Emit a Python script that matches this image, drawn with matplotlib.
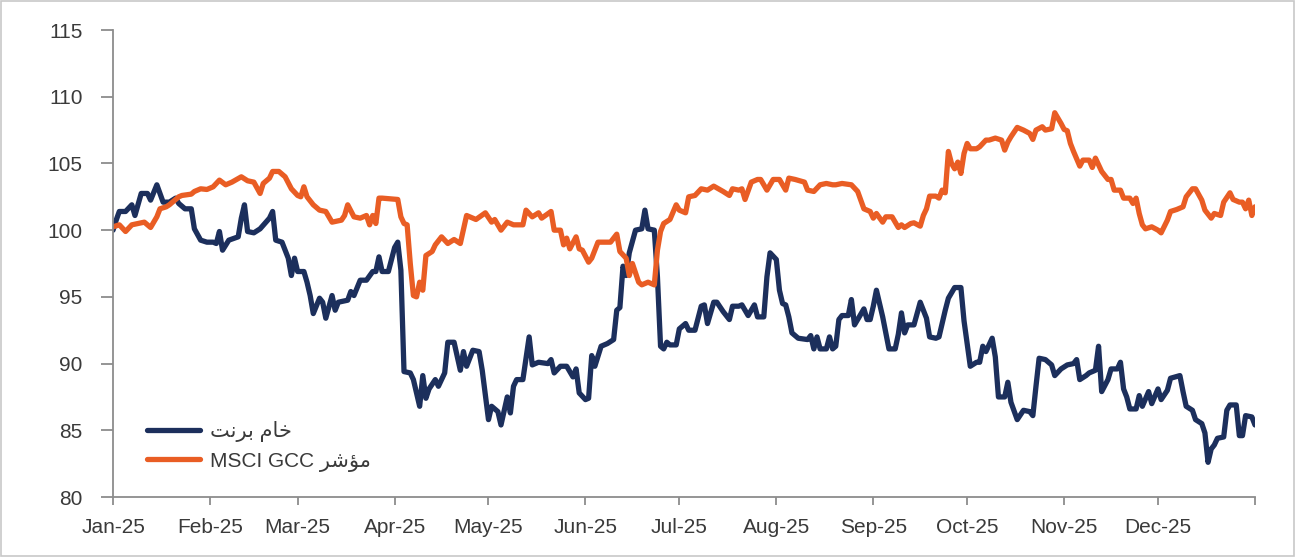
import matplotlib
matplotlib.use("Agg")
import matplotlib.pyplot as plt
from matplotlib.patches import Rectangle
import pandas as pd

# rebased index levels (1 Jan 2025 = 100), keyed by day offset from 1 Jan 2025
brent_days = [0, 1, 2, 4, 6, 7, 9, 11, 12, 14, 16, 18, 20, 21, 23, 25, 26, 28, 30, 32,
              33, 34, 35, 37, 40, 41, 42, 43, 45, 47, 50, 51, 52, 54, 56, 57, 58, 59, 61, 62,
              63, 64, 66, 67, 68, 70, 71, 72, 75, 76, 77, 79, 81, 83, 84, 85, 86, 88, 90, 91,
              92, 93, 95, 96, 98, 99, 100, 101, 103, 104, 106, 107, 109, 111, 112, 113, 115, 117, 118, 120,
              121, 123, 124, 126, 127, 128, 129, 131, 133, 134, 136, 139, 140, 141, 143, 145, 147, 148, 149, 151,
              152, 153, 154, 156, 158, 160, 161, 162, 163, 164, 165, 167, 169, 170, 171, 173, 174, 175, 176, 177,
              178, 180, 181, 183, 184, 186, 188, 189, 190, 192, 193, 195, 197, 198, 200, 201, 203, 205, 206, 208,
              209, 210, 212, 213, 214, 215, 216, 217, 219, 222, 223, 224, 225, 226, 228, 229, 230, 231, 232, 233,
              235, 236, 237, 240, 241, 242, 243, 244, 246, 247, 248, 250, 251, 252, 253, 254, 256, 258, 260, 261,
              263, 264, 266, 267, 269, 271, 272, 273, 274, 276, 277, 278, 279, 281, 282, 283, 285, 286, 287, 289,
              291, 293, 294, 295, 296, 298, 300, 301, 303, 305, 307, 308, 309, 311, 312, 314, 315, 316, 318, 319,
              321, 322, 323, 324, 325, 327, 328, 329, 331, 332, 334, 335, 337, 338, 341, 342, 343, 345, 346, 348,
              349, 350, 351, 352, 353, 355, 356, 357, 359, 360, 361, 362, 364, 365]
brent = [100.0, 100.75, 101.4, 101.4, 101.9, 101.1, 102.75, 102.75, 102.25, 103.4, 102.1, 102.1, 102.4, 102.0, 101.6, 101.6, 100.1, 99.25, 99.1, 99.1,
         99.0, 99.9, 98.5, 99.25, 99.5, 100.9, 101.9, 99.9, 99.8, 100.1, 100.9, 101.4, 99.25, 99.1, 97.9, 96.6, 97.9, 96.9, 96.9, 96.1,
         95.1, 93.75, 94.9, 94.6, 93.4, 95.1, 94.0, 94.6, 94.75, 95.4, 95.1, 96.25, 96.25, 96.9, 96.9, 98.0, 96.9, 96.9, 98.7, 99.1,
         97.0, 89.4, 89.3, 88.8, 86.8, 89.1, 87.4, 88.1, 88.8, 88.3, 89.3, 91.6, 91.6, 89.5, 90.9, 89.8, 91.0, 90.9, 89.5, 85.8,
         86.8, 86.4, 85.4, 87.5, 86.3, 88.3, 88.8, 88.8, 92.0, 89.9, 90.1, 90.0, 90.3, 89.3, 89.8, 89.8, 89.0, 89.6, 87.8, 87.3,
         87.4, 90.6, 89.8, 91.3, 91.5, 91.8, 94.0, 94.2, 97.3, 96.6, 98.3, 100.0, 100.1, 101.5, 100.1, 100.0, 96.5, 91.3, 91.1, 91.6,
         91.4, 91.4, 92.6, 93.0, 92.5, 92.5, 94.3, 94.4, 93.0, 94.6, 94.6, 93.9, 93.3, 94.3, 94.3, 94.4, 93.6, 94.4, 93.5, 93.5,
         96.5, 98.3, 97.8, 95.5, 94.5, 94.4, 93.5, 92.3, 91.9, 91.8, 92.1, 91.1, 92.0, 91.1, 91.1, 92.0, 91.1, 91.3, 93.3, 93.6,
         93.6, 94.8, 92.9, 94.1, 93.3, 93.3, 94.3, 95.5, 93.5, 92.3, 91.1, 91.1, 92.2, 93.8, 92.3, 92.9, 92.9, 94.6, 93.4, 92.0,
         91.9, 92.0, 94.0, 94.9, 95.7, 95.7, 93.2, 91.5, 89.8, 90.1, 90.1, 91.3, 90.9, 91.9, 90.5, 87.5, 87.5, 88.6, 87.1, 85.8,
         86.5, 86.4, 86.1, 88.3, 90.4, 90.3, 89.9, 89.1, 89.6, 89.9, 90.0, 90.3, 88.8, 89.1, 89.3, 89.5, 91.3, 87.9, 88.8, 89.6,
         89.6, 90.1, 88.1, 87.5, 86.6, 86.6, 87.6, 86.8, 87.9, 87.0, 88.1, 87.3, 88.0, 88.9, 89.1, 87.9, 86.8, 86.5, 85.8, 85.5,
         84.8, 82.6, 83.6, 83.9, 84.4, 84.5, 86.5, 86.9, 86.9, 84.6, 84.6, 86.1, 86.0, 85.4]

gcc_days = [0, 2, 4, 6, 8, 10, 12, 14, 15, 17, 18, 21, 22, 25, 26, 28, 30, 32, 34, 36,
            38, 41, 43, 45, 47, 48, 50, 51, 53, 55, 57, 59, 60, 61, 62, 64, 66, 68, 70, 73,
            74, 75, 77, 79, 81, 82, 83, 84, 85, 86, 91, 92, 93, 94, 95, 96, 97, 98, 99, 100,
            102, 103, 105, 107, 109, 111, 113, 116, 119, 121, 122, 124, 126, 128, 131, 132, 134, 136, 137, 140,
            141, 143, 144, 145, 146, 148, 149, 150, 152, 153, 155, 159, 161, 162, 164, 165, 166, 168, 169, 171,
            173, 174, 175, 176, 178, 180, 181, 183, 184, 186, 188, 190, 192, 195, 197, 198, 200, 201, 202, 204,
            206, 207, 209, 211, 213, 215, 216, 218, 221, 222, 224, 226, 228, 230, 231, 233, 236, 238, 240, 241,
            242, 243, 244, 246, 247, 249, 251, 252, 253, 255, 256, 258, 259, 260, 261, 263, 264, 265, 266, 267,
            268, 269, 270, 271, 272, 273, 274, 276, 277, 279, 280, 282, 284, 285, 286, 287, 289, 291, 293, 294,
            295, 297, 298, 300, 301, 303, 304, 305, 306, 307, 309, 310, 312, 313, 314, 316, 318, 319, 320, 322,
            323, 325, 326, 327, 328, 329, 330, 332, 334, 335, 337, 338, 340, 342, 343, 345, 346, 348, 349, 351,
            352, 354, 355, 357, 358, 360, 361, 362, 363, 364, 365]
gcc = [100.25, 100.4, 99.9, 100.4, 100.5, 100.6, 100.2, 101.0, 101.6, 101.75, 101.9, 102.5, 102.6, 102.7, 102.9, 103.1, 103.05, 103.25, 103.75, 103.4,
       103.6, 104.0, 103.7, 103.6, 102.75, 103.5, 103.9, 104.4, 104.4, 104.0, 103.1, 102.6, 102.5, 103.25, 102.5, 101.9, 101.5, 101.4, 100.6, 100.75,
       101.1, 101.9, 101.0, 100.9, 101.1, 100.4, 101.1, 100.5, 102.4, 102.4, 102.3, 101.0, 100.5, 100.4, 97.5, 95.1, 95.0, 96.1, 95.5, 98.1,
       98.4, 98.9, 99.5, 99.0, 99.3, 99.0, 101.1, 100.8, 101.3, 100.6, 100.8, 100.0, 100.6, 100.4, 100.4, 101.5, 101.0, 101.3, 100.9, 101.4,
       100.0, 100.0, 98.9, 99.4, 98.6, 99.5, 98.6, 98.5, 97.6, 97.9, 99.1, 99.1, 99.7, 98.4, 97.9, 96.6, 97.5, 96.1, 95.9, 96.1,
       95.9, 98.5, 99.9, 100.5, 100.8, 101.9, 101.5, 101.3, 102.5, 102.6, 103.1, 103.0, 103.3, 102.9, 102.6, 103.1, 103.0, 103.1, 102.3, 103.6,
       103.8, 103.8, 103.0, 103.8, 103.8, 103.0, 103.9, 103.8, 103.6, 103.0, 102.9, 103.4, 103.5, 103.4, 103.4, 103.5, 103.4, 102.9, 101.6, 101.5,
       101.4, 100.9, 101.25, 100.6, 101.0, 101.0, 100.2, 100.4, 100.2, 100.5, 100.55, 100.3, 101.1, 101.6, 102.55, 102.55, 102.4, 103.0, 102.8, 105.9,
       105.0, 104.6, 105.1, 104.25, 105.75, 106.5, 106.1, 106.1, 106.25, 106.75, 106.75, 106.9, 106.75, 106.0, 106.6, 107.0, 107.7, 107.5, 107.25, 106.8,
       107.5, 107.75, 107.5, 107.6, 108.8, 108.0, 107.55, 107.45, 106.5, 105.9, 104.8, 105.25, 105.25, 104.7, 105.4, 104.4, 103.8, 103.8, 103.0, 103.0,
       102.4, 102.4, 102.0, 102.4, 101.25, 100.4, 100.1, 100.25, 100.0, 99.8, 100.75, 101.4, 101.55, 101.75, 102.5, 103.1, 103.1, 102.25, 101.5, 100.9,
       101.25, 101.1, 102.1, 102.8, 102.3, 102.1, 102.1, 101.6, 102.25, 101.1, 101.75]

# legend labels: Arabic written in presentation forms, visual order (no shaping in Agg)
brent_label = "\uFE96\uFEE7\uFEAE\uFE91 \uFEE1\uFE8E\uFEA7"             # خام برنت
gcc_label = "MSCI GCC \uFEAE\uFEB7\uFE86\uFEE3"                          # مؤشر MSCI GCC

y_ticks = [80, 85, 90, 95, 100, 105, 110, 115]

start = pd.Timestamp("2025-01-01")
brent_dates = start + pd.to_timedelta(brent_days, unit="D")
gcc_dates = start + pd.to_timedelta(gcc_days, unit="D")

plt.rcParams["font.family"] = ["Liberation Sans", "DejaVu Sans"]

NAVY = "#1c2f5c"
ORANGE = "#e95d24"
AXIS = "#8c8c8c"
TEXT = "#3a3a3a"

fig = plt.figure(figsize=(12.95, 5.57), dpi=100)
ax = fig.add_axes([0.0873, 0.1077, 0.8818, 0.8384])

ax.plot(brent_dates, brent, color=NAVY, lw=3.8, solid_joinstyle="round",
        solid_capstyle="round", label=brent_label)
ax.plot(gcc_dates, gcc, color=ORANGE, lw=3.8, solid_joinstyle="round",
        solid_capstyle="round", label=gcc_label)

ax.set_ylim(80, 115)
ax.set_yticks(y_ticks)
ax.set_xlim(start, start + pd.Timedelta(days=365))
month_ticks = list(pd.date_range("2025-01-01", "2025-12-01", freq="MS")) + [start + pd.Timedelta(days=365)]
ax.set_xticks(month_ticks)
ax.set_xticklabels([d.strftime("%b-%y") for d in month_ticks[:-1]] + [""])

for side in ["top", "right"]:
    ax.spines[side].set_visible(False)
for side in ["left", "bottom"]:
    ax.spines[side].set_color(AXIS)
    ax.spines[side].set_linewidth(1.3)

ax.tick_params(axis="y", length=9, width=1.3, color=AXIS, pad=13, labelsize=15, labelcolor=TEXT)
ax.tick_params(axis="x", length=6, width=1.3, color=AXIS, pad=9, labelsize=15, labelcolor=TEXT)

ax.legend(loc="lower left", bbox_to_anchor=(0.013, 0.014), frameon=False, fontsize=15,
          handlelength=2.55, handletextpad=0.5, labelspacing=0.45, labelcolor=TEXT)

# thin frame round the whole figure
fig.patches.append(Rectangle((0.001, 0.002), 0.998, 0.996, transform=fig.transFigure,
                             fill=False, edgecolor="#c8c8c8", lw=1.2))

fig.savefig("out.png", dpi=100)
